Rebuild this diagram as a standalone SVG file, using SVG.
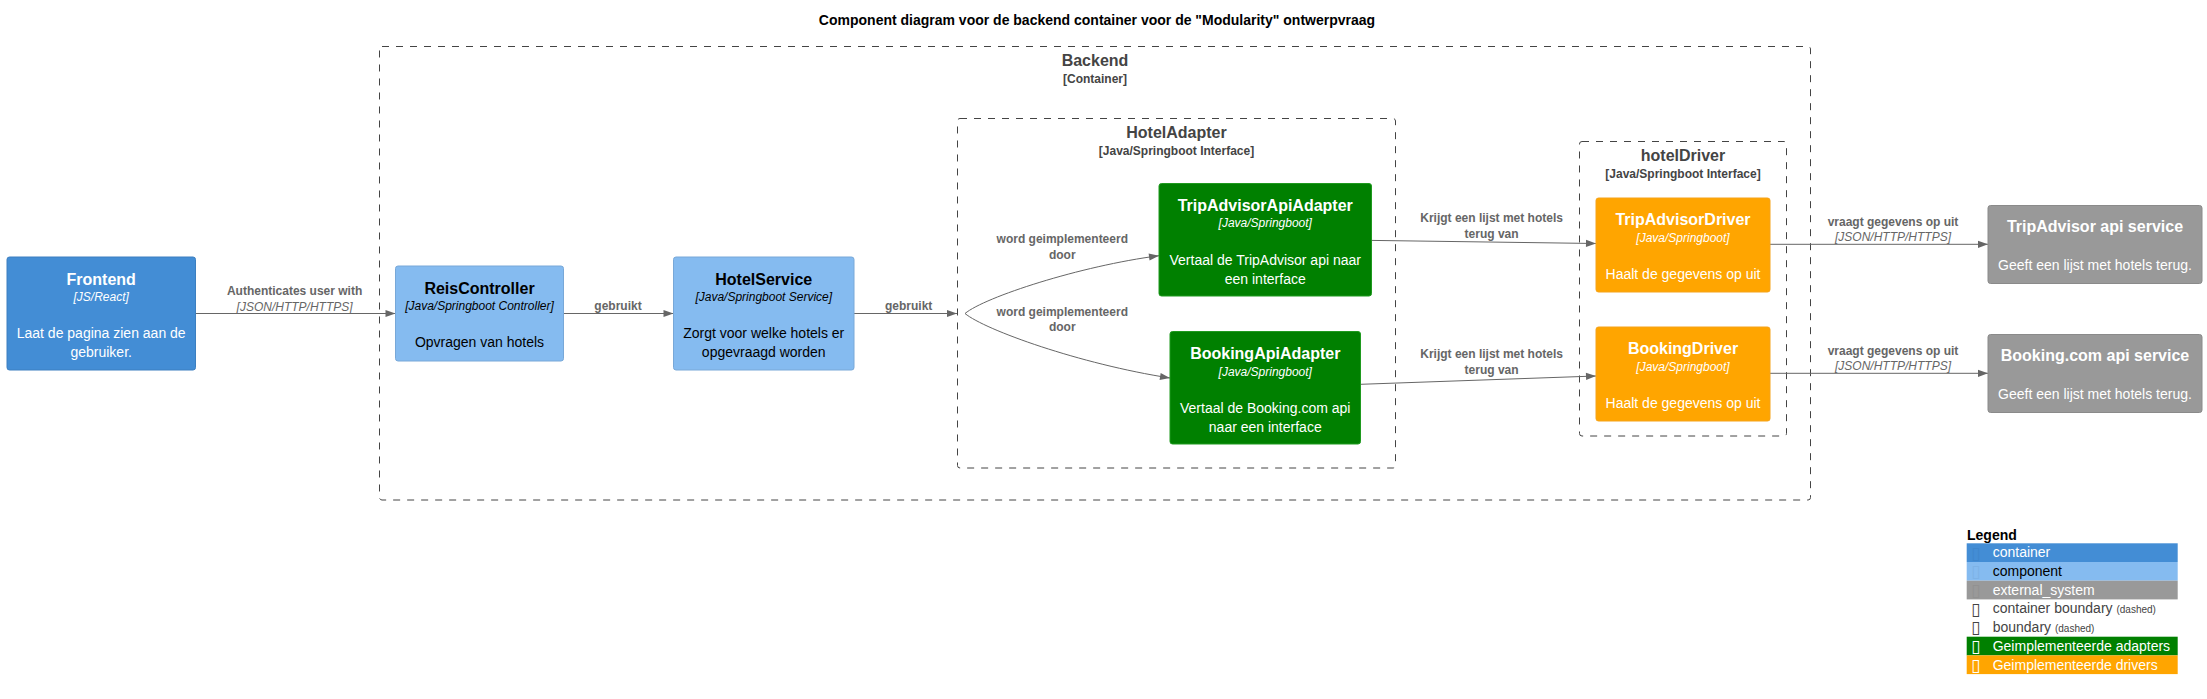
<svg xmlns="http://www.w3.org/2000/svg" width="2207" height="699" viewBox="0 0 2207 699">
<defs>
<style>
text{font-family:"Liberation Sans",Arial,sans-serif}
.mid{text-anchor:middle}
.title{font-size:14px;font-weight:bold;fill:#000}
.bnd{fill:none;stroke:#444;stroke-width:1;stroke-dasharray:7,7}
.bl{font-size:16px;font-weight:bold;fill:#444}
.bs{font-size:12px;font-weight:bold;fill:#444}
.n{font-size:16px;font-weight:bold}
.st{font-size:12px;font-style:italic}
.d{font-size:14px}
.w{fill:#fff}
.k{fill:#000}
.cont{fill:#438DD5;stroke:#3C7FC0}
.comp{fill:#85BBF0;stroke:#78A8D8}
.ext{fill:#999999;stroke:#8A8A8A}
.adp{fill:#008000;stroke:#1f9a1f}
.drv{fill:#FFA500;stroke:#f5a31a}
.ln{fill:none;stroke:#666;stroke-width:1;marker-end:url(#ah)}
.lb{font-size:12px;font-weight:bold;fill:#666}
.li{font-size:12px;font-style:italic;fill:#666}
.lg{font-size:14px}
.gl{font-family:"DejaVu Sans",sans-serif;font-size:17px}
.sm{font-size:10px}
</style>
<marker id="ah" markerUnits="userSpaceOnUse" markerWidth="12" markerHeight="10" viewBox="-11 -5 12 10" refX="0" refY="0" orient="auto"><path d="M0,0 L-10,-3.6 L-10,3.6 Z" fill="#666"/></marker>
</defs>
<rect width="2207" height="699" fill="#fff"/>
<text class="title mid" x="1097" y="25">Component diagram voor de backend container voor de "Modularity" ontwerpvraag</text>

<g id="backend">
<rect class="bnd" x="379.5" y="46.5" width="1431" height="453.5" rx="2.5"/>
<text class="bl mid" x="1095" y="65.5">Backend</text>
<text class="bs mid" x="1095" y="83">[Container]</text>
</g>
<g id="hotelAdapter">
<rect class="bnd" x="957.5" y="118.5" width="438" height="349.5" rx="2.5"/>
<text class="bl mid" x="1176.5" y="137.5">HotelAdapter</text>
<text class="bs mid" x="1176.5" y="155">[Java/Springboot Interface]</text>
</g>
<g id="hotelDriver">
<rect class="bnd" x="1579.5" y="141.5" width="207" height="294.5" rx="2.5"/>
<text class="bl mid" x="1683" y="160.5">hotelDriver</text>
<text class="bs mid" x="1683" y="177.5">[Java/Springboot Interface]</text>
</g>

<g id="connectors">
<path class="ln" d="M195.5,313.5 L395.5,313.5"/>
<path class="ln" d="M563.5,313.5 L673.5,313.5"/>
<path class="ln" d="M854,313.5 L957,313.5"/>
<path class="ln" d="M965,313.5 C985,297 1080,266 1159,255.7"/>
<path class="ln" d="M965,313.5 C985,330 1080,364 1170,378"/>
<path class="ln" d="M1371.5,240.4 L1596,243.5"/>
<path class="ln" d="M1360.7,384.3 L1596,376"/>
<path class="ln" d="M1770,244.3 L1988,244.3"/>
<path class="ln" d="M1770,373.3 L1988,373.3"/>
<text class="lb mid" x="294.6" y="295">Authenticates user with</text>
<text class="li mid" x="294.6" y="310.5">[JSON/HTTP/HTTPS]</text>
<text class="lb mid" x="618" y="310">gebruikt</text>
<text class="lb mid" x="908.7" y="310">gebruikt</text>
<text class="lb mid" x="1062.3" y="243">word geimplementeerd</text>
<text class="lb mid" x="1062.3" y="259">door</text>
<text class="lb mid" x="1062.3" y="315.5">word geimplementeerd</text>
<text class="lb mid" x="1062.3" y="331">door</text>
<text class="lb mid" x="1491.6" y="222.3">Krijgt een lijst met hotels</text>
<text class="lb mid" x="1491.6" y="238.3">terug van</text>
<text class="lb mid" x="1491.6" y="358.3">Krijgt een lijst met hotels</text>
<text class="lb mid" x="1491.6" y="374.3">terug van</text>
<text class="lb mid" x="1893" y="226">vraagt gegevens op uit</text>
<text class="li mid" x="1893" y="240.7">[JSON/HTTP/HTTPS]</text>
<text class="lb mid" x="1893" y="355">vraagt gegevens op uit</text>
<text class="li mid" x="1893" y="370">[JSON/HTTP/HTTPS]</text>
</g>

<g id="frontend">
<rect class="cont" x="7" y="257" width="188.5" height="113" rx="2.5"/>
<text class="n w mid" x="101.2" y="284.5">Frontend</text>
<text class="st w mid" x="101.2" y="301">[JS/React]</text>
<text class="d w mid" x="101.2" y="338">Laat de pagina zien aan de</text>
<text class="d w mid" x="101.2" y="357">gebruiker.</text>
</g>
<g id="reisController">
<rect class="comp" x="395.5" y="266" width="168" height="95" rx="2.5"/>
<text class="n k mid" x="479.5" y="293.5">ReisController</text>
<text class="st k mid" x="479.5" y="310">[Java/Springboot Controller]</text>
<text class="d k mid" x="479.5" y="347">Opvragen van hotels</text>
</g>
<g id="hotelService">
<rect class="comp" x="673.5" y="257" width="180.5" height="113" rx="2.5"/>
<text class="n k mid" x="763.75" y="284.5">HotelService</text>
<text class="st k mid" x="763.75" y="301">[Java/Springboot Service]</text>
<text class="d k mid" x="763.75" y="338">Zorgt voor welke hotels er</text>
<text class="d k mid" x="763.75" y="357">opgevraagd worden</text>
</g>
<g id="tripAdvisorApiAdapter">
<rect class="adp" x="1159" y="183.5" width="212.5" height="112.5" rx="2.5"/>
<text class="n w mid" x="1265.25" y="210.5">TripAdvisorApiAdapter</text>
<text class="st w mid" x="1265.25" y="227">[Java/Springboot]</text>
<text class="d w mid" x="1265.25" y="264.5">Vertaal de TripAdvisor api naar</text>
<text class="d w mid" x="1265.25" y="283.5">een interface</text>
</g>
<g id="bookingApiAdapter">
<rect class="adp" x="1170" y="331.5" width="190.5" height="112.5" rx="2.5"/>
<text class="n w mid" x="1265.25" y="358.5">BookingApiAdapter</text>
<text class="st w mid" x="1265.25" y="375.5">[Java/Springboot]</text>
<text class="d w mid" x="1265.25" y="412.5">Vertaal de Booking.com api</text>
<text class="d w mid" x="1265.25" y="431.5">naar een interface</text>
</g>
<g id="tripAdvisorDriver">
<rect class="drv" x="1596" y="198" width="174" height="94" rx="2.5"/>
<text class="n w mid" x="1683" y="225">TripAdvisorDriver</text>
<text class="st w mid" x="1683" y="242">[Java/Springboot]</text>
<text class="d w mid" x="1683" y="279">Haalt de gegevens op uit</text>
</g>
<g id="bookingDriver">
<rect class="drv" x="1596" y="327" width="174" height="94" rx="2.5"/>
<text class="n w mid" x="1683" y="354">BookingDriver</text>
<text class="st w mid" x="1683" y="371">[Java/Springboot]</text>
<text class="d w mid" x="1683" y="408">Haalt de gegevens op uit</text>
</g>
<g id="tripAdvisorApi">
<rect class="ext" x="1988" y="205.5" width="214" height="78" rx="2.5"/>
<text class="n w mid" x="2095" y="232">TripAdvisor api service</text>
<text class="d w mid" x="2095" y="269.5">Geeft een lijst met hotels terug.</text>
</g>
<g id="bookingApi">
<rect class="ext" x="1988" y="334.5" width="214" height="78" rx="2.5"/>
<text class="n w mid" x="2095" y="361">Booking.com api service</text>
<text class="d w mid" x="2095" y="398.5">Geeft een lijst met hotels terug.</text>
</g>

<g id="legend">
<text x="1967" y="539.5" style="font-size:14px;font-weight:bold;fill:#000">Legend</text>
<rect x="1966.7" y="543.3" width="211" height="18.7" fill="#438DD5"/>
<rect x="1966.7" y="562" width="211" height="18.7" fill="#85BBF0"/>
<rect x="1966.7" y="580.7" width="211" height="18.7" fill="#999999"/>
<rect x="1966.7" y="636.7" width="211" height="18.7" fill="#008000"/>
<rect x="1966.7" y="655.4" width="211" height="18.7" fill="#FFA500"/>
<text class="gl" x="1971" y="558.5" fill="#3F86CC">▯</text>
<text class="lg" x="1992.7" y="557.3" fill="#fff">container</text>
<text class="gl" x="1971" y="577.2" fill="#7DB2E6">▯</text>
<text class="lg" x="1992.7" y="576" fill="#000">component</text>
<text class="gl" x="1971" y="595.9" fill="#919191">▯</text>
<text class="lg" x="1992.7" y="594.7" fill="#fff">external_system</text>
<text class="gl" x="1971" y="614.6" fill="#444">▯</text>
<text class="lg" x="1992.7" y="613.4" fill="#444">container boundary <tspan class="sm">(dashed)</tspan></text>
<text class="gl" x="1971" y="633.3" fill="#444">▯</text>
<text class="lg" x="1992.7" y="632.1" fill="#444">boundary <tspan class="sm">(dashed)</tspan></text>
<text class="gl" x="1971" y="652" fill="#fff">▯</text>
<text class="lg" x="1992.7" y="650.8" fill="#fff">Geimplementeerde adapters</text>
<text class="gl" x="1971" y="670.7" fill="#fff">▯</text>
<text class="lg" x="1992.7" y="669.5" fill="#fff">Geimplementeerde drivers</text>
</g>
</svg>
